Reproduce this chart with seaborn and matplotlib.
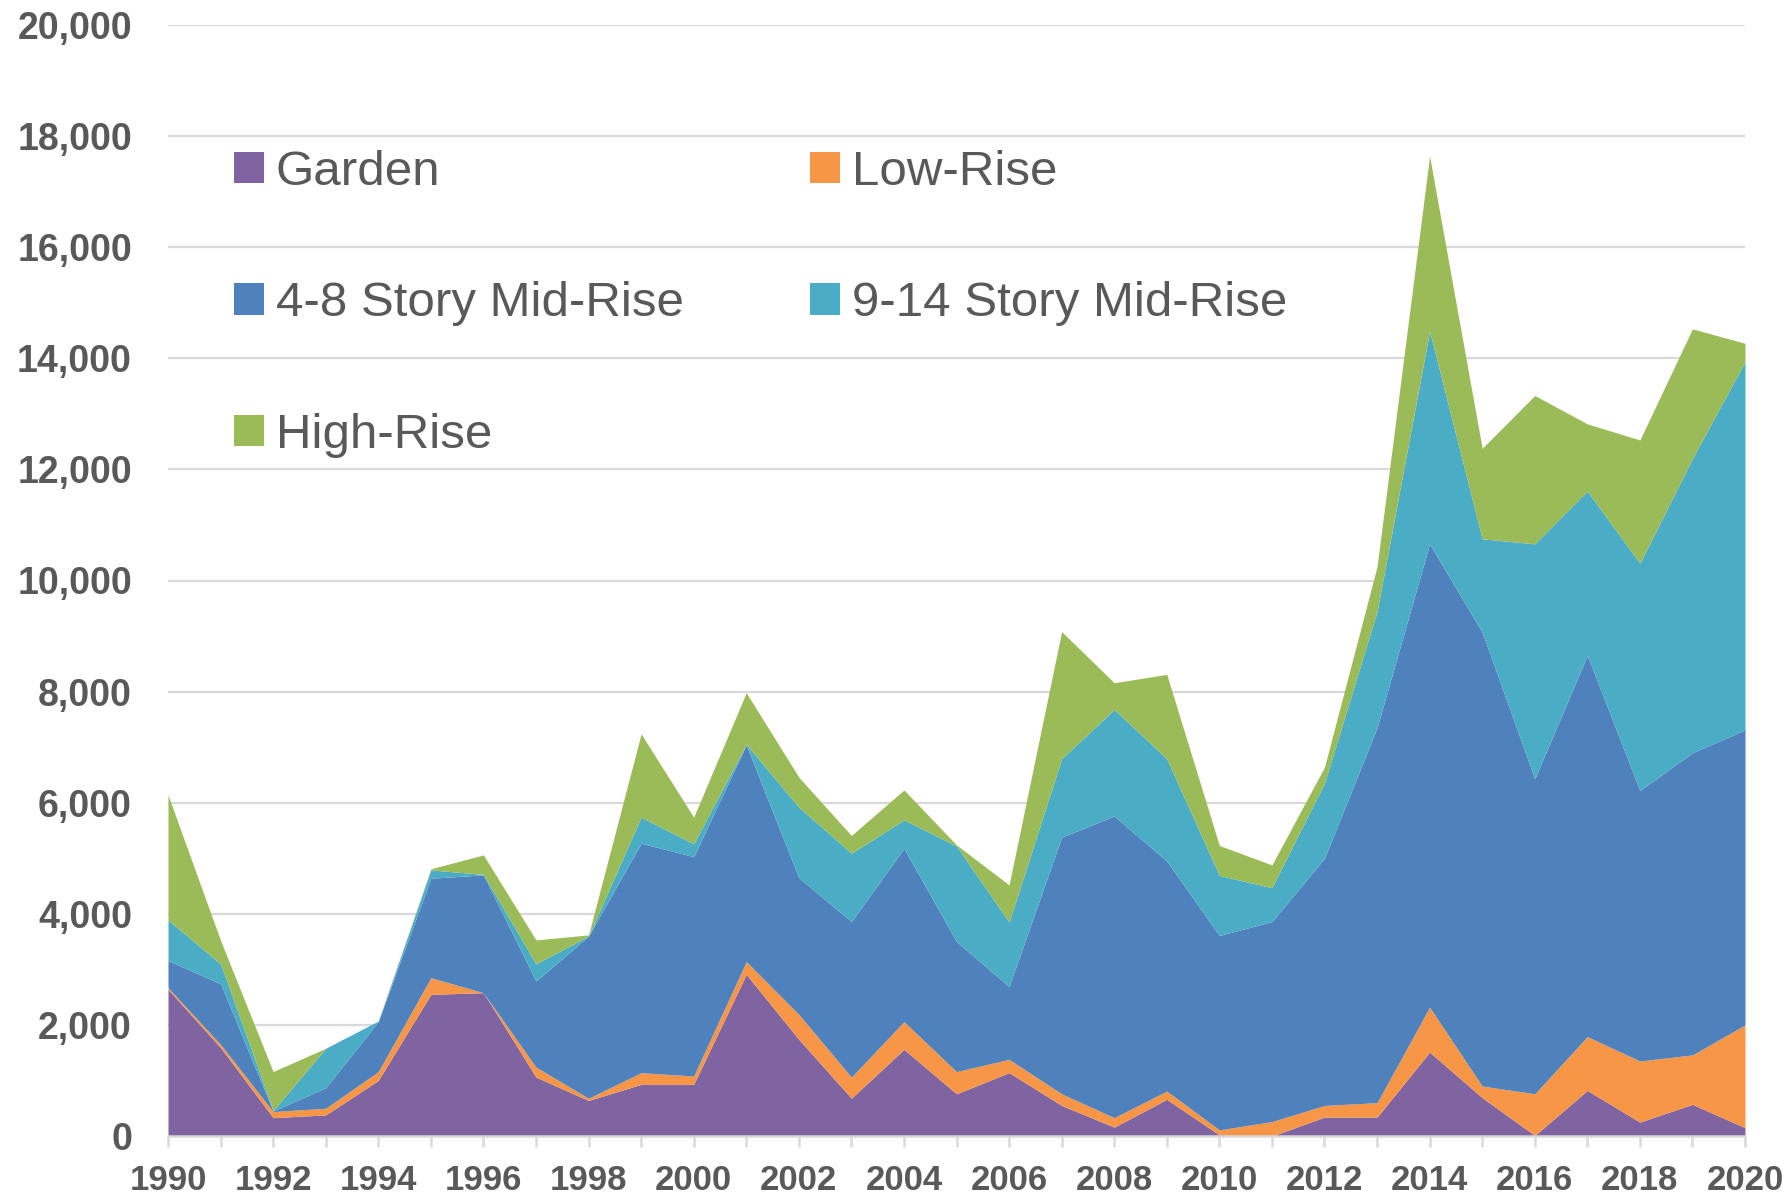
import matplotlib
matplotlib.use("Agg")
import matplotlib.pyplot as plt
from matplotlib.ticker import FuncFormatter, MultipleLocator
import seaborn as sns

# Units started per year, by building type
years = list(range(1990, 2021))
garden = [2640, 1590, 330, 380, 1000, 2550, 2580, 1060, 640, 930, 930, 2910, 1740, 680, 1560,
          760, 1140, 550, 160, 660, 20, 0, 340, 340, 1510, 690, 10, 820, 250, 570, 150]
low_rise = [30, 60, 110, 120, 160, 300, 0, 180, 40, 210, 150, 230, 450, 380, 500,
            400, 240, 210, 170, 150, 90, 260, 210, 260, 810, 210, 750, 970, 1100, 890, 1850]
mid_4_8 = [490, 1090, 10, 370, 900, 1790, 2120, 1550, 2920, 4130, 3950, 3900, 2460, 2800, 3120,
           2340, 1310, 4620, 5430, 4140, 3500, 3600, 4450, 6750, 8340, 8170, 5670, 6860, 4870, 5440, 5310]
mid_9_14 = [730, 360, 10, 710, 10, 150, 10, 310, 0, 470, 230, 10, 1270, 1230, 510,
            1720, 1160, 1410, 1920, 1840, 1080, 610, 1350, 2090, 3830, 1680, 4230, 2960, 4090, 5300, 6630]
high_rise = [2250, 420, 700, 0, 0, 20, 350, 430, 20, 1500, 480, 930, 540, 320, 540,
             20, 670, 2290, 480, 1520, 540, 410, 290, 810, 3150, 1630, 2670, 1210, 2220, 2330, 330]

labels = ["Garden", "Low-Rise", "4-8 Story Mid-Rise", "9-14 Story Mid-Rise", "High-Rise"]
colors = ["#8064A2", "#F79646", "#4F81BD", "#4BACC6", "#9BBB59"]

sns.set_theme(style="white")
plt.rcParams["font.family"] = ["Liberation Sans", "DejaVu Sans"]

text_gray = "#595959"
grid_gray = "#D9D9D9"

fig = plt.figure(figsize=(17.9, 11.97), dpi=100)
ax = fig.add_axes([168 / 1790, 1 - 1136 / 1197, (1745 - 168) / 1790, (1136 - 25) / 1197])

ax.stackplot(years, garden, low_rise, mid_4_8, mid_9_14, high_rise,
             labels=labels, colors=colors, linewidth=0)

ax.set_xlim(1990, 2020)
ax.set_ylim(0, 20000)
ax.yaxis.set_major_locator(MultipleLocator(2000))
ax.yaxis.set_major_formatter(FuncFormatter(lambda v, p: f"{int(v):,}"))
ax.xaxis.set_major_locator(MultipleLocator(2))
ax.xaxis.set_minor_locator(MultipleLocator(1))

ax.grid(axis="y", color=grid_gray, linewidth=1.6)
ax.grid(axis="x", visible=False)
ax.set_axisbelow(True)

for side in ["left", "right", "top"]:
    ax.spines[side].set_visible(False)
ax.spines["bottom"].set_color(grid_gray)
ax.spines["bottom"].set_linewidth(1.8)
ax.spines["bottom"].set_zorder(5)

ax.tick_params(axis="y", length=0, pad=26, labelsize=27, labelcolor=text_gray)
ax.tick_params(axis="x", which="both", direction="out", length=8, width=1.8,
               color=grid_gray, bottom=True)
ax.tick_params(axis="x", which="major", pad=12, labelsize=25, labelcolor=text_gray)
for lab in ax.get_xticklabels() + ax.get_yticklabels():
    lab.set_fontweight("bold")

# legend fills column by column, so reorder to read row by row like the original
handles, leg_labels = ax.get_legend_handles_labels()
order = [0, 2, 4, 1, 3]
ax.legend([handles[i] for i in order], [leg_labels[i] for i in order],
          loc="upper left", bbox_to_anchor=(234 / 1790, 1 - 150 / 1197),
          bbox_transform=fig.transFigure, ncol=2, frameon=False,
          fontsize=35.5, labelcolor=text_gray, handlelength=0.6, handleheight=0.6,
          handletextpad=0.25, columnspacing=2.56, labelspacing=1.75,
          borderpad=0, borderaxespad=0)

fig.savefig("out.png", dpi=100)
